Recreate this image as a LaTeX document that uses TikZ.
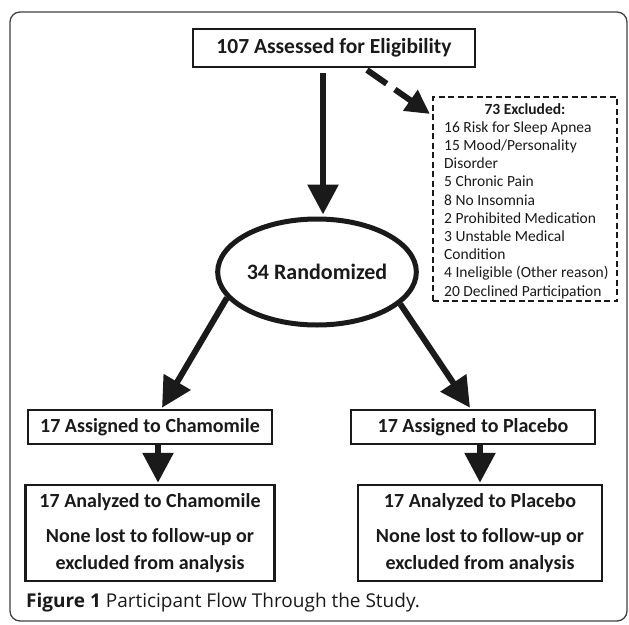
\documentclass[tikz,border=0pt]{standalone}
\usepackage{fontspec}
\setmainfont{Carlito}
\newfontfamily\capfont{Open Sans}
\usetikzlibrary{arrows.meta,shapes.geometric}
\definecolor{ink}{HTML}{1A1A1A}
\begin{document}
\begin{tikzpicture}[x=1pt,y=-1pt,
  box/.style={draw=ink, line width=2.5pt, inner sep=0pt, align=center,
    font=\bfseries\fontsize{20}{27}\selectfont, text=ink},
  exbox/.style={draw=ink, line width=2.5pt, dash pattern=on 6pt off 3.5pt},
  extext/.style={anchor=mid west, inner sep=0pt, text=ink, font=\fontsize{15.5}{18}\selectfont},
  arr/.style={draw=ink, line width=6pt, -{Triangle[length=30pt,width=30pt]}},
  dasharr/.style={draw=ink, line width=6pt, dash pattern=on 24pt off 10pt, -{Triangle[length=24pt,width=24pt]}}]
\useasboundingbox (0,0) rectangle (629,624);
\draw[rounded corners=10pt, line width=1.3pt, draw=black!75] (10,12) rectangle (627,621);
% nodes
\node[box, minimum width=282pt, minimum height=38pt, font=\bfseries\fontsize{21.5}{26}\selectfont] (top) at (334,48) {107 Assessed for Eligibility};
\node[draw=ink, ellipse, line width=5pt, minimum width=186pt, minimum height=106pt, inner sep=0pt,
  font=\bfseries\fontsize{22}{26}\selectfont, text=ink] (rand) at (317,272) {34 Randomized};
\node[exbox, minimum width=184pt, minimum height=204pt] (excl) at (525,199) {};
\node[anchor=mid, inner sep=0pt, text=ink, font=\bfseries\fontsize{15.5}{18}\selectfont] (exh) at (525,111.8) {73 Excluded:};
\foreach \t [count=\i] in {{16 Risk for Sleep Apnea},{15 Mood/Personality},{Disorder},{5 Chronic Pain},{8 No Insomnia},{2 Prohibited Medication},{3 Unstable Medical},{Condition},{4 Ineligible (Other reason)},{20 Declined Participation}}
  \node[extext] (ex\i) at (444,111.8+18.2*\i) {\t};
\node[box, minimum width=244pt, minimum height=34pt] (asgL) at (150,427) {17 Assigned to Chamomile};
\node[box, minimum width=244pt, minimum height=34pt] (asgR) at (473,427) {17 Assigned to Placebo};
\node[box, minimum width=249pt, minimum height=96pt] (anaL) at (150,533) {17 Analyzed to Chamomile\\[8pt]None lost to follow-up or\\excluded from analysis};
\node[box, minimum width=244pt, minimum height=96pt] (anaR) at (480,533) {17 Analyzed to Placebo\\[8pt]None lost to follow-up or\\excluded from analysis};
\node[anchor=base west, inner sep=0pt, text=ink, font=\capfont\fontsize{19}{22}\selectfont] (cap) at (26,607) {\textbf{Figure 1} Participant Flow Through the Study.};
% helper coordinates
\coordinate (cM) at (323,0);
\coordinate (cL) at (162,0);
\coordinate (cR) at (470,0);
\coordinate (dL) at (158,0);
\coordinate (dR) at (480,0);
\coordinate (ds) at (367,70);
\coordinate (dt) at (430,114);
% connectors
\draw[arr, shorten <=5pt] (top.south -| cM) -- ([yshift=2pt]rand.north -| cM);
\draw[dasharr] (ds) -- (dt);
\draw[arr] (rand.196) -- ([yshift=1pt]asgL.north -| cL);
\draw[arr] (rand.339) -- ([yshift=1pt]asgR.north -| cR);
\draw[arr] (asgL.south -| dL) -- ([yshift=1pt]anaL.north -| dL);
\draw[arr] (asgR.south -| dR) -- ([yshift=1pt]anaR.north -| dR);
\end{tikzpicture}
\end{document}
